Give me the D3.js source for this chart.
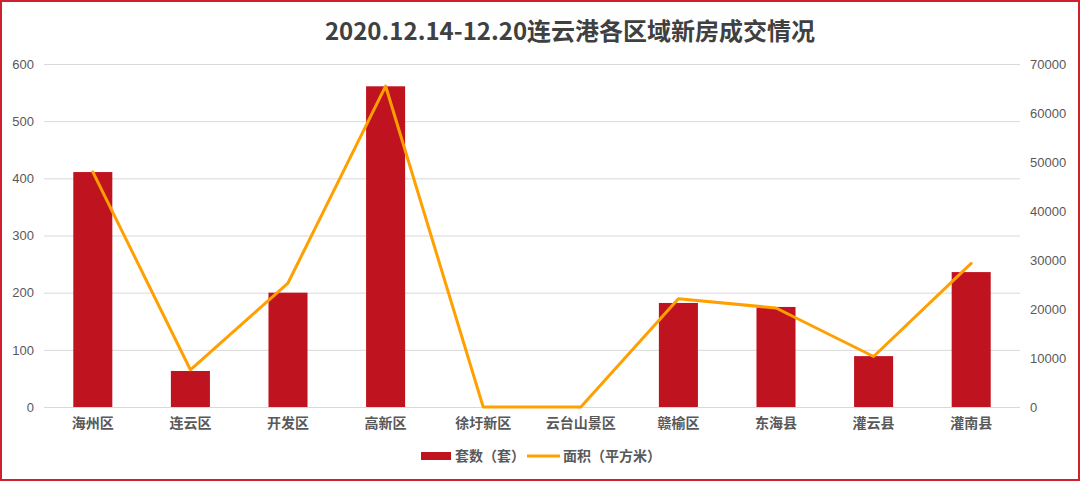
<!DOCTYPE html>
<html><head><meta charset="utf-8">
<script src="https://cdn.jsdelivr.net/npm/d3@7/dist/d3.min.js"></script>
<style>body{margin:0;background:#fff}svg{display:block}</style>
</head><body>
<svg id="c" width="1080" height="481"></svg>
<script>
const categories = ["海州区","连云区","开发区","高新区","徐圩新区","云台山景区","赣榆区","东海县","灌云县","灌南县"];
const units = [411, 63, 200, 561, 0, 0, 182, 175, 89, 236];
const area = [48000, 7600, 25300, 65500, 0, 0, 22100, 20200, 10300, 29300];
const leftTicks = [0,100,200,300,400,500,600];
const rightTicks = [0,10000,20000,30000,40000,50000,60000,70000];
const title = "2020.12.14-12.20连云港各区域新房成交情况";
const legendNames = ["套数（套）","面积（平方米）"];

const svg = d3.select("#c");
const W = 1080, H = 481;
const m = {l:44, r:1020, t:64, b:407};
const font = "'Noto Sans CJK SC','Liberation Sans',sans-serif";

svg.append("rect").attr("x",1).attr("y",1).attr("width",W-2).attr("height",H-2)
  .attr("fill","#fff").attr("stroke","#d0202e").attr("stroke-width",2);

const x = d3.scaleBand().domain(categories).range([m.l,m.r]).paddingInner(0.6).paddingOuter(0.3);
const xc = d3.scaleBand().domain(categories).range([m.l,m.r]);
const yL = d3.scaleLinear().domain([0,600]).range([m.b,m.t]);
const yR = d3.scaleLinear().domain([0,70000]).range([m.b,m.t]);

// gridlines
svg.append("g").selectAll("line").data(leftTicks.filter(d=>d>0)).join("line")
  .attr("x1",m.l).attr("x2",m.r).attr("y1",d=>yL(d)+0.5).attr("y2",d=>yL(d)+0.5)
  .attr("stroke","#d9d9d9").attr("stroke-width",1);

// left axis
const gl = svg.append("g").attr("transform",`translate(${m.l},0)`)
  .call(d3.axisLeft(yL).tickValues(leftTicks).tickSize(0).tickPadding(10));
gl.select(".domain").remove();
gl.selectAll("text").attr("font-family","'Liberation Sans',Arial,sans-serif").attr("font-size",13).attr("fill","#595959");

// right axis
const gr = svg.append("g").attr("transform",`translate(${m.r},0)`)
  .call(d3.axisRight(yR).tickValues(rightTicks).tickFormat(d3.format("d")).tickSize(0).tickPadding(10));
gr.select(".domain").remove();
gr.selectAll("text").attr("font-family","'Liberation Sans',Arial,sans-serif").attr("font-size",13).attr("fill","#595959");

// bars
svg.append("g").selectAll("rect").data(categories).join("rect")
  .attr("x",d=>x(d)).attr("width",x.bandwidth())
  .attr("y",(d,i)=>yL(units[i])).attr("height",(d,i)=>m.b-yL(units[i]))
  .attr("fill","#c01320");

// baseline
svg.append("line").attr("x1",m.l).attr("x2",m.r).attr("y1",m.b+0.5).attr("y2",m.b+0.5)
  .attr("stroke","#d9d9d9").attr("stroke-width",1);

// x axis labels
const gx = svg.append("g").attr("transform",`translate(0,${m.b})`)
  .call(d3.axisBottom(xc).tickSize(0).tickPadding(11));
gx.select(".domain").remove();
gx.selectAll("text").attr("font-family",font).attr("font-size",14).attr("font-weight","bold").attr("fill","#595959");

// line
const line = d3.line().x((d,i)=>xc(categories[i])+xc.bandwidth()/2).y(d=>yR(d));
svg.append("path").datum(area).attr("d",line).attr("fill","none")
  .attr("stroke","#ffa000").attr("stroke-width",3).attr("stroke-linejoin","round").attr("stroke-linecap","round");

// title
svg.append("text").attr("x",570).attr("y",40).attr("text-anchor","middle")
  .attr("font-family",font).attr("font-size",24).attr("font-weight","bold").attr("fill","#404040")
  .text(title);

// legend
const lg = svg.append("g").attr("font-family",font).attr("font-size",14).attr("fill","#595959");
lg.append("rect").attr("x",421).attr("y",452).attr("width",30).attr("height",8).attr("fill","#c01320");
lg.append("text").attr("x",455).attr("y",461).text(legendNames[0]).attr("fill","#595959").attr("font-weight","bold");
lg.append("line").attr("x1",527).attr("x2",560).attr("y1",456).attr("y2",456).attr("stroke","#ffa000").attr("stroke-width",3);
lg.append("text").attr("x",563).attr("y",461).text(legendNames[1]).attr("fill","#595959").attr("font-weight","bold");
</script>
</body></html>
